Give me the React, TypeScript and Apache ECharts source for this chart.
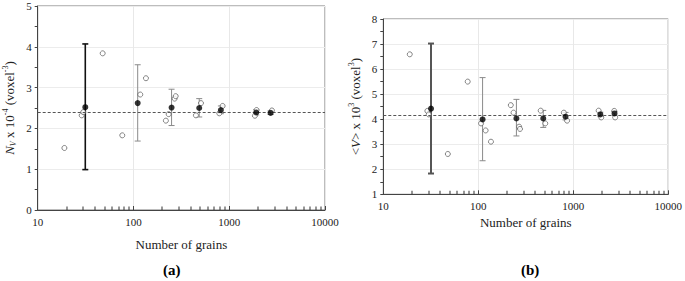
import React, { useEffect, useRef } from "react";
import * as echarts from "echarts";

// ---- Panel (a): N_V ----
const aMeanX = [31.4, 110.7, 250, 486, 818, 1914, 2704];
const aMeanY = [2.52, 2.62, 2.51, 2.5, 2.45, 2.39, 2.38];
const aErrLow = [0.99, 1.69, 2.07, 2.28, 2.36, 2.33, 2.34];
const aErrHigh = [4.07, 3.56, 2.96, 2.73, 2.55, 2.46, 2.43];
const aPtsX = [19, 28.8, 29.9, 47.7, 76.4, 117.8, 135, 218, 233, 269, 276, 449, 507, 787, 853, 1854, 1930, 2790];
const aPtsY = [1.52, 2.32, 2.4, 3.84, 1.83, 2.83, 3.23, 2.19, 2.35, 2.73, 2.79, 2.32, 2.62, 2.37, 2.55, 2.31, 2.45, 2.44];
const aRef = 2.4;

// ---- Panel (b): <V> ----
const bMeanX = [31.8, 111, 252, 483, 829, 1928, 2718];
const bMeanY = [4.42, 3.99, 4.03, 4.03, 4.1, 4.19, 4.23];
const bErrLow = [1.83, 2.34, 3.33, 3.67, 3.97, 4.1, 4.15];
const bErrHigh = [7.02, 5.66, 4.79, 4.35, 4.27, 4.28, 4.3];
const bPtsX = [19, 29.1, 30.1, 47.8, 77.4, 107, 119.5, 136, 220, 235, 269, 275, 454, 507, 796, 861, 1850, 1970, 2700, 2760];
const bPtsY = [6.59, 4.33, 4.19, 2.61, 5.5, 3.83, 3.55, 3.1, 4.56, 4.26, 3.7, 3.61, 4.34, 3.83, 4.26, 3.94, 4.34, 4.07, 4.33, 4.07];
const bRef = 4.17;

const xTickLabels = ["10", "100", "1000", "10000"];
const xMinorTicks = [20, 30, 40, 50, 60, 70, 80, 90, 200, 300, 400, 500, 600, 700, 800, 900, 2000, 3000, 4000, 5000, 6000, 7000, 8000, 9000];
const yMins = [0, 1];

const FONT = "'Liberation Serif', 'Times New Roman', 'DejaVu Serif', serif";
const TXT = "#222";

function xAxisCfg(gridIndex: number) {
  return {
    type: "log",
    gridIndex,
    min: 10,
    max: 10000,
    logBase: 10,
    name: "Number of grains",
    nameLocation: "middle",
    nameGap: gridIndex === 0 ? 28 : 21,
    nameTextStyle: { fontFamily: FONT, fontSize: 13, color: TXT },
    axisLine: { lineStyle: { color: "#444", width: 1 } },
    axisTick: { show: true, inside: true, length: 4, lineStyle: { color: "#444" } },
    axisLabel: {
      fontFamily: FONT,
      fontSize: 11,
      color: TXT,
      margin: 6,
      formatter: (v: number) => {
        const r = Math.round(v);
        const s = String(r);
        return xTickLabels.includes(s) ? s : "";
      },
    },
    splitLine: { show: true, lineStyle: { color: "#e8e8e8", width: 1 } },
  };
}

function yAxisCfg(gridIndex: number, min: number, max: number, nameRich: string) {
  return {
    type: "value",
    gridIndex,
    min,
    max,
    interval: 1,
    name: nameRich,
    nameLocation: "middle",
    nameRotate: 90,
    nameGap: 20,
    nameTextStyle: {
      fontFamily: FONT,
      color: TXT,
      rich: {
        n: { fontFamily: FONT, fontSize: 13, color: TXT, lineHeight: 16, verticalAlign: "middle" },
        i: { fontFamily: FONT, fontSize: 13, fontStyle: "italic", color: TXT, lineHeight: 16, verticalAlign: "middle" },
        sub: { fontFamily: FONT, fontSize: 8, fontStyle: "italic", color: TXT, lineHeight: 16, verticalAlign: "bottom" },
        sup: { fontFamily: FONT, fontSize: 8, color: TXT, lineHeight: 16, verticalAlign: "top" },
      },
    },
    axisLine: { show: true, lineStyle: { color: "#444", width: 1 } },
    axisTick: { show: true, inside: false, length: 3, lineStyle: { color: "#444" } },
    minorTick: { show: true, splitNumber: 2, length: 3, lineStyle: { color: "#444" } },
    axisLabel: { fontFamily: FONT, fontSize: 11, color: TXT, margin: 6 },
    splitLine: { show: true, lineStyle: { color: "#ececec", width: 1 } },
  };
}

function errSeries(idx: number, xs: number[], lo: number[], hi: number[], firstColor: string, firstWidth: number) {
  return {
    type: "custom",
    xAxisIndex: idx,
    yAxisIndex: idx,
    encode: { x: 0, y: [1, 2] },
    data: xs.map((x, i) => [x, lo[i], hi[i]]),
    z: 3,
    renderItem: (params: any, api: any) => {
      const x = api.value(0);
      const top = api.coord([x, api.value(2)]);
      const bot = api.coord([x, api.value(1)]);
      const first = params.dataIndex === 0;
      const stroke = first ? firstColor : "#8a8a8a";
      const lw = first ? firstWidth : 1;
      const cap = 3;
      return {
        type: "group",
        children: [
          { type: "line", shape: { x1: top[0], y1: top[1], x2: bot[0], y2: bot[1] }, style: { stroke, lineWidth: lw } },
          { type: "line", shape: { x1: top[0] - cap, y1: top[1], x2: top[0] + cap, y2: top[1] }, style: { stroke, lineWidth: lw } },
          { type: "line", shape: { x1: bot[0] - cap, y1: bot[1], x2: bot[0] + cap, y2: bot[1] }, style: { stroke, lineWidth: lw } },
        ],
      };
    },
  };
}

function hollowSeries(idx: number, xs: number[], ys: number[]) {
  return {
    type: "scatter",
    xAxisIndex: idx,
    yAxisIndex: idx,
    data: xs.map((x, i) => [x, ys[i]]),
    symbol: "circle",
    symbolSize: 5,
    itemStyle: { color: "#fff", borderColor: "#555", borderWidth: 0.9 },
    z: 4,
  };
}

function meanSeries(idx: number, xs: number[], ys: number[], ref: number) {
  return {
    type: "scatter",
    xAxisIndex: idx,
    yAxisIndex: idx,
    data: xs.map((x, i) => [x, ys[i]]),
    symbol: "circle",
    symbolSize: 6,
    itemStyle: { color: "#000" },
    z: 5,
    markLine: {
      silent: true,
      symbol: ["none", "none"],
      label: { show: false },
      lineStyle: { color: "#555", type: [3, 2], width: 1 },
      data: [{ yAxis: ref }],
    },
  };
}

export default function App() {
  const ref = useRef<HTMLDivElement>(null);
  useEffect(() => {
    document.body.style.margin = "0";
    if (!ref.current) return;
    const chart = echarts.init(ref.current, null, { renderer: "svg" });
    const labels = [
      { type: "text", left: 163, top: 262, style: { text: "(a)", fontFamily: FONT, fontSize: 15, fontWeight: "bold", fill: "#000" } },
      { type: "text", left: 521, top: 262, style: { text: "(b)", fontFamily: FONT, fontSize: 15, fontWeight: "bold", fill: "#000" } },
    ];
    chart.setOption({
      animation: false,
      backgroundColor: "#fff",
      textStyle: { fontFamily: FONT },
      grid: [
        { left: 37.7, right: 360, top: 6, bottom: 71, show: true, borderColor: "#7a7a7a", borderWidth: 1, backgroundColor: "transparent" },
        { left: 383.3, right: 15, top: 19, bottom: 86.7, show: true, borderColor: "#7a7a7a", borderWidth: 1, backgroundColor: "transparent" },
      ],
      xAxis: [xAxisCfg(0), xAxisCfg(1)],
      yAxis: [
        yAxisCfg(0, 0, 5, "{i|N}{sub|V}{n| x 10}{sup|-4}{n| (voxel}{sup|-3}{n|)}"),
        yAxisCfg(1, 1, 8, "{n|<}{i|V}{n|> x 10}{sup|3}{n| (voxel}{sup|3}{n|)}"),
      ],
      graphic: labels,
      series: [
        errSeries(0, aMeanX, aErrLow, aErrHigh, "#111", 1.6),
        errSeries(1, bMeanX, bErrLow, bErrHigh, "#555", 2),
        hollowSeries(0, aPtsX, aPtsY),
        hollowSeries(1, bPtsX, bPtsY),
        meanSeries(0, aMeanX, aMeanY, aRef),
        meanSeries(1, bMeanX, bMeanY, bRef),
      ],
    });
    // minor log ticks on the x axes, positioned through the axes' own scales
    const ticks: any[] = [];
    [0, 1].forEach((g) => {
      xMinorTicks.forEach((v) => {
        const p = chart.convertToPixel({ gridIndex: g } as any, [v, yMins[g]]) as number[];
        if (p && isFinite(p[0])) {
          ticks.push({
            type: "rect",
            silent: true,
            z: 100,
            shape: { x: Math.round(p[0]) - 0.5, y: p[1] - 3.5, width: 1, height: 3.5 },
            style: { fill: "#333" },
          });
        }
      });
    });
    chart.setOption({ graphic: [...labels, ...ticks] });
    return () => chart.dispose();
  }, []);
  return <div ref={ref} style={{ width: 685, height: 281 }} />;
}
